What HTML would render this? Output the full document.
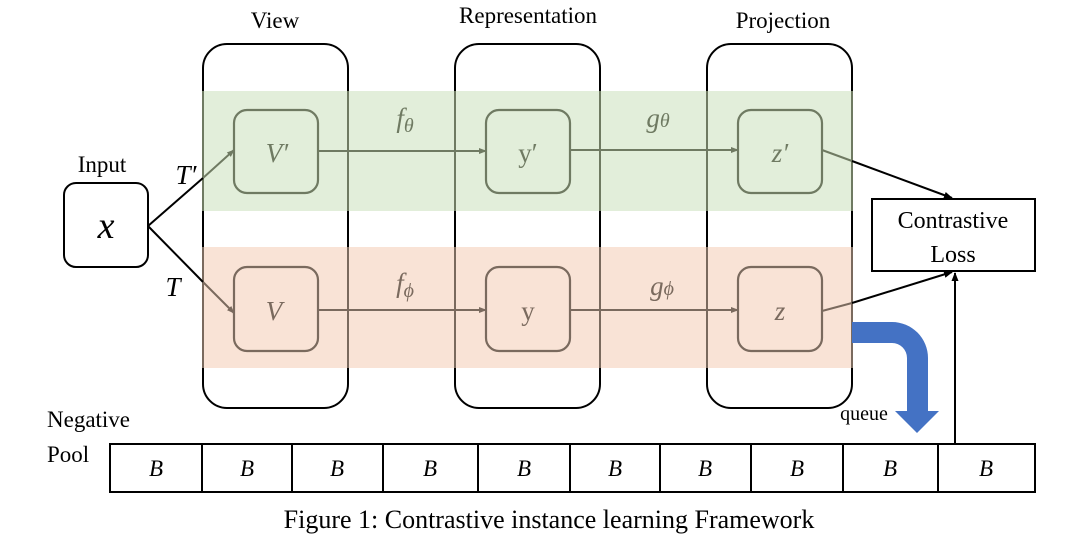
<!DOCTYPE html>
<html><head><meta charset="utf-8"><style>
html,body{margin:0;padding:0;background:#fff;}
svg{display:block;}
text{font-family:"Liberation Serif",serif;}
</style></head><body>
<svg width="1080" height="538" viewBox="0 0 1080 538" xmlns="http://www.w3.org/2000/svg">
<defs>
<marker id="ag" markerWidth="8" markerHeight="8" refX="7" refY="4" orient="auto" markerUnits="userSpaceOnUse"><path d="M0,1 L8,4 L0,7 z" fill="#6f7a62"/></marker>
<marker id="ab" markerWidth="8" markerHeight="8" refX="7" refY="4" orient="auto" markerUnits="userSpaceOnUse"><path d="M0,1 L8,4 L0,7 z" fill="#7a6a5e"/></marker>
<marker id="ak" markerWidth="9" markerHeight="9" refX="8" refY="4.5" orient="auto" markerUnits="userSpaceOnUse"><path d="M0,1 L9,4.5 L0,8 z" fill="#000"/></marker>
</defs>
<rect x="203" y="44" width="145" height="364" rx="24" fill="none" stroke="#000" stroke-width="2"/>
<rect x="455" y="44" width="145" height="364" rx="24" fill="none" stroke="#000" stroke-width="2"/>
<rect x="707" y="44" width="145" height="364" rx="24" fill="none" stroke="#000" stroke-width="2"/>
<rect x="203" y="91" width="649" height="120" fill="#dfedd7" opacity="0.92"/>
<rect x="203" y="247" width="649" height="121" fill="#f9e1d3" opacity="0.92"/>
<g stroke="#6f7a62" stroke-width="2">
<line x1="203" y1="91" x2="203" y2="211"/><line x1="348" y1="91" x2="348" y2="211"/>
<line x1="455" y1="91" x2="455" y2="211"/><line x1="600" y1="91" x2="600" y2="211"/>
<line x1="707" y1="91" x2="707" y2="211"/><line x1="852" y1="91" x2="852" y2="211"/>
</g>
<g stroke="#7a6a5e" stroke-width="2">
<line x1="203" y1="247" x2="203" y2="368"/><line x1="348" y1="247" x2="348" y2="368"/>
<line x1="455" y1="247" x2="455" y2="368"/><line x1="600" y1="247" x2="600" y2="368"/>
<line x1="707" y1="247" x2="707" y2="368"/><line x1="852" y1="247" x2="852" y2="368"/>
</g>
<text x="275" y="28" font-size="23" text-anchor="middle">View</text>
<text x="528" y="23" font-size="23" text-anchor="middle">Representation</text>
<text x="783" y="28" font-size="23" text-anchor="middle">Projection</text>
<text x="102" y="172" font-size="23" text-anchor="middle">Input</text>
<rect x="64" y="183" width="84" height="84" rx="12" fill="#fff" stroke="#000" stroke-width="2"/>
<text x="106" y="238" font-size="38" font-style="italic" text-anchor="middle">x</text>
<line x1="148" y1="226" x2="203" y2="178" stroke="#000" stroke-width="2"/>
<line x1="203" y1="178" x2="234" y2="150" stroke="#6f7a62" stroke-width="2" marker-end="url(#ag)"/>
<line x1="148" y1="226" x2="203" y2="282" stroke="#000" stroke-width="2"/>
<line x1="203" y1="282" x2="234" y2="313" stroke="#7a6a5e" stroke-width="2" marker-end="url(#ab)"/>
<text x="186" y="184" font-size="27" font-style="italic" text-anchor="middle">T′</text>
<text x="173" y="296" font-size="27" font-style="italic" text-anchor="middle">T</text>
<g fill="none" stroke="#6f7a62" stroke-width="2.2">
<rect x="234" y="110" width="84" height="83" rx="13"/>
<rect x="486" y="110" width="84" height="83" rx="13"/>
<rect x="738" y="110" width="84" height="83" rx="13"/>
</g>
<g fill="none" stroke="#7a6a5e" stroke-width="2.2">
<rect x="234" y="267" width="84" height="84" rx="13"/>
<rect x="486" y="267" width="84" height="84" rx="13"/>
<rect x="738" y="267" width="84" height="84" rx="13"/>
</g>
<g font-size="27" text-anchor="middle">
<text x="277" y="162" fill="#6f7a62" font-style="italic">V′</text>
<text x="528" y="162" fill="#6f7a62">y′</text>
<text x="780" y="162" fill="#6f7a62" font-style="italic">z′</text>
<text x="274" y="320" fill="#7a6a5e" font-style="italic">V</text>
<text x="528" y="320" fill="#7a6a5e">y</text>
<text x="780" y="320" fill="#7a6a5e" font-style="italic">z</text>
<text x="405" y="127" fill="#6f7a62" font-style="italic">f<tspan font-size="20" dy="5">θ</tspan></text>
<text x="405" y="292" fill="#7a6a5e" font-style="italic">f<tspan font-size="20" dy="5">ϕ</tspan></text>
<text x="658" y="127" fill="#6f7a62" font-style="italic">g<tspan font-size="20">θ</tspan></text>
<text x="662" y="295" fill="#7a6a5e" font-style="italic">g<tspan font-size="20">ϕ</tspan></text>
</g>
<line x1="318" y1="151" x2="486" y2="151" stroke="#6f7a62" stroke-width="2" marker-end="url(#ag)"/>
<line x1="570" y1="150" x2="738" y2="150" stroke="#6f7a62" stroke-width="2" marker-end="url(#ag)"/>
<line x1="318" y1="310" x2="486" y2="310" stroke="#7a6a5e" stroke-width="2" marker-end="url(#ab)"/>
<line x1="570" y1="310" x2="738" y2="310" stroke="#7a6a5e" stroke-width="2" marker-end="url(#ab)"/>
<line x1="822" y1="150" x2="852" y2="161" stroke="#6f7a62" stroke-width="2"/>
<line x1="852" y1="161" x2="952" y2="198" stroke="#000" stroke-width="2" marker-end="url(#ak)"/>
<line x1="822" y1="311" x2="852" y2="303" stroke="#7a6a5e" stroke-width="2"/>
<line x1="852" y1="303" x2="952" y2="272" stroke="#000" stroke-width="2" marker-end="url(#ak)"/>
<rect x="872" y="199" width="163" height="72" fill="#fff" stroke="#000" stroke-width="2"/>
<text x="953" y="228" font-size="24" text-anchor="middle">Contrastive</text>
<text x="953" y="262" font-size="24" text-anchor="middle">Loss</text>
<line x1="955" y1="444" x2="955" y2="273" stroke="#000" stroke-width="2" marker-end="url(#ak)"/>
<path d="M852,322 L892,322 A36,36 0 0 1 928,358 L928,411 L939,411 L917,433 L895,411 L907,411 L907,358 A15,15 0 0 0 892,343 L852,343 Z" fill="#4472c4"/>
<text x="864" y="420" font-size="20" text-anchor="middle">queue</text>
<text x="47" y="427" font-size="23">Negative</text>
<text x="47" y="462" font-size="23">Pool</text>
<rect x="110" y="444" width="925" height="48" fill="#fff" stroke="#000" stroke-width="2"/>
<g stroke="#000" stroke-width="2">
<line x1="202" y1="444" x2="202" y2="492"/><line x1="292" y1="444" x2="292" y2="492"/>
<line x1="383" y1="444" x2="383" y2="492"/><line x1="478" y1="444" x2="478" y2="492"/>
<line x1="570" y1="444" x2="570" y2="492"/><line x1="660" y1="444" x2="660" y2="492"/>
<line x1="751" y1="444" x2="751" y2="492"/><line x1="843" y1="444" x2="843" y2="492"/>
<line x1="938" y1="444" x2="938" y2="492"/>
</g>
<g font-size="23" font-style="italic" text-anchor="middle">
<text x="156" y="476">B</text><text x="247" y="476">B</text><text x="337" y="476">B</text>
<text x="430" y="476">B</text><text x="524" y="476">B</text><text x="615" y="476">B</text>
<text x="705" y="476">B</text><text x="797" y="476">B</text><text x="890" y="476">B</text>
<text x="986" y="476">B</text>
</g>
<text x="549" y="528" font-size="26" text-anchor="middle">Figure 1: Contrastive instance learning Framework</text>
</svg>
</body></html>
